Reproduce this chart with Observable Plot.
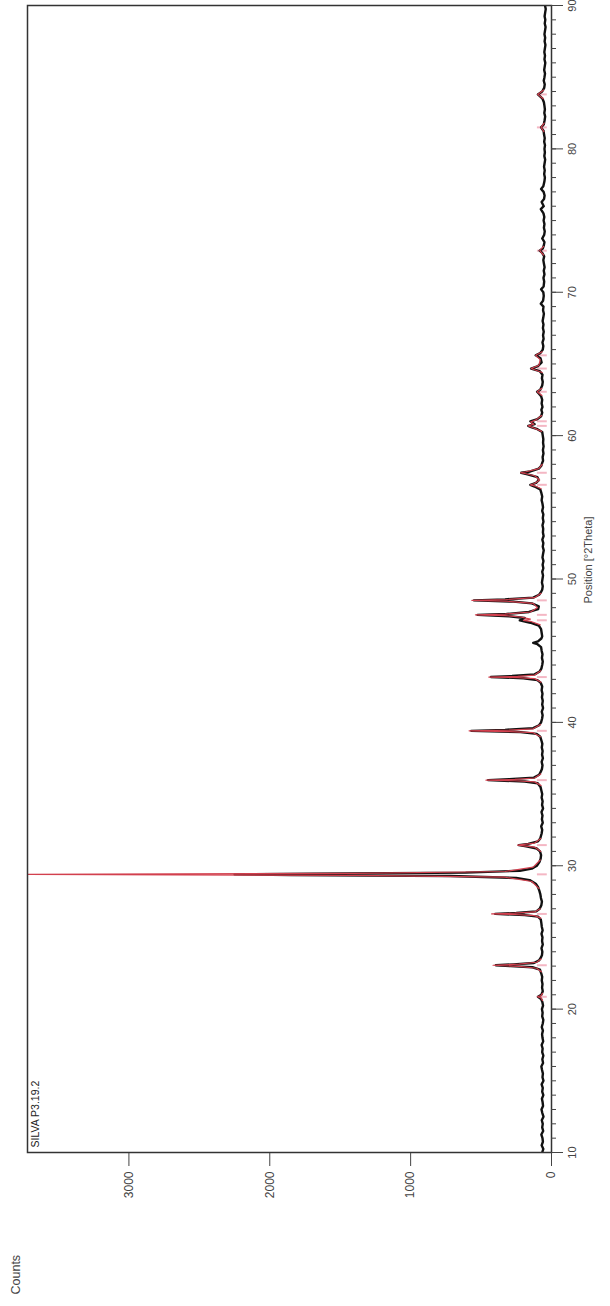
<!DOCTYPE html>
<html><head><meta charset="utf-8">
<script src="https://cdn.jsdelivr.net/npm/d3@7"></script>
<script src="https://cdn.jsdelivr.net/npm/@observablehq/plot@0.6"></script>
<style>
html,body{margin:0;padding:0;background:#fff;overflow:hidden;width:610px;height:1306px;}
#wrap{position:absolute;left:0;top:0;width:1306px;height:610px;transform-origin:0 0;transform:translate(0,1306px) rotate(-90deg);}
#wrap svg{position:absolute;left:0;top:0;}
</style></head><body><div id="wrap"></div>
<script>
// Observed pattern (black), [°2Theta, counts]
const obs10to30 = [[10,66],[10.25,58],[10.5,70],[10.75,61],[11,64],[11.25,72],[11.5,59],[11.75,66],[12,62],[12.25,69],[12.5,57],[12.75,65],[13,71],[13.25,60],[13.5,63],[13.75,68],[14,58],[14.25,66],[14.5,62],[14.75,70],[15,57],[15.25,64],[15.5,61],[15.75,67],[16,72],[16.25,60],[16.5,65],[16.75,58],[17,66],[17.25,63],[17.5,70],[17.75,59],[18,64],[18.25,67],[18.5,61],[18.75,69],[19,62],[19.25,58],[19.5,66],[19.75,63],[20,68],[20.25,60],[20.5,65],[20.7,74],[20.86,96],[21,72],[21.25,62],[21.5,67],[21.75,64],[22,69],[22.25,66],[22.5,73],[22.75,82],[22.92,135],[23.0,290],[23.06,395],[23.12,270],[23.22,125],[23.4,88],[23.6,75],[23.75,68],[24,65],[24.25,71],[24.5,62],[24.75,67],[25,64],[25.25,71],[25.5,63],[25.75,69],[26,72],[26.25,76],[26.45,96],[26.56,190],[26.64,400],[26.7,250],[26.82,108],[27,84],[27.25,72],[27.5,68],[27.75,75],[28,79],[28.25,86],[28.5,95],[28.75,112],[29,155],[29.15,250],[29.28,720],[29.36,1850],[29.4,2250],[29.44,1700],[29.52,610],[29.65,225],[29.8,140],[30,104]];
const obs30to50 = [[30.25,86],[30.5,77],[30.75,74],[31,82],[31.2,104],[31.36,180],[31.44,232],[31.52,165],[31.7,96],[31.9,80],[32.25,70],[32.5,66],[32.75,73],[33,62],[33.25,68],[33.5,64],[33.75,71],[34,60],[34.25,67],[34.5,63],[34.75,70],[35,66],[35.25,72],[35.5,78],[35.75,98],[35.88,190],[35.97,450],[36.04,300],[36.15,125],[36.35,88],[36.6,74],[36.75,68],[37,64],[37.25,70],[37.5,61],[37.75,67],[38,63],[38.25,69],[38.5,65],[38.75,72],[39,80],[39.2,105],[39.32,220],[39.41,570],[39.48,330],[39.6,130],[39.8,88],[40,74],[40.25,67],[40.5,63],[40.75,69],[41,60],[41.25,66],[41.5,62],[41.75,68],[42,64],[42.25,70],[42.5,66],[42.75,76],[42.95,100],[43.08,200],[43.16,430],[43.23,280],[43.35,120],[43.55,84],[43.75,72],[44,66],[44.25,62],[44.5,68],[44.75,64],[45,70],[45.25,74],[45.45,100],[45.55,130],[45.65,96],[45.85,72],[46,66],[46.25,70],[46.5,74],[46.75,90],[46.95,150],[47.12,225],[47.28,190],[47.4,300],[47.5,525],[47.56,320],[47.7,160],[47.9,95],[48.1,90],[48.3,140],[48.42,270],[48.51,550],[48.58,330],[48.7,130],[48.9,88],[49.1,74],[49.25,66],[49.5,62],[49.75,68],[50,64]];
const obs50to70 = [[50.25,60],[50.5,66],[50.75,58],[51,63],[51.25,57],[51.5,64],[51.75,60],[52,55],[52.25,62],[52.5,58],[52.75,65],[53,56],[53.25,61],[53.5,59],[53.75,64],[54,57],[54.25,62],[54.5,58],[54.75,66],[55,60],[55.25,64],[55.5,70],[55.75,66],[56,72],[56.25,80],[56.45,120],[56.57,150],[56.7,110],[56.9,90],[57.1,100],[57.3,170],[57.41,215],[57.5,150],[57.7,90],[57.9,72],[58.1,66],[58.25,60],[58.5,63],[58.75,57],[59,61],[59.25,56],[59.5,60],[59.75,58],[60,62],[60.25,66],[60.45,100],[60.6,145],[60.68,165],[60.8,120],[61,150],[61.15,100],[61.35,74],[61.6,66],[61.8,72],[62,64],[62.25,70],[62.5,66],[62.75,74],[62.95,92],[63.06,102],[63.2,80],[63.5,66],[63.75,62],[64,68],[64.25,64],[64.5,84],[64.68,145],[64.85,96],[65.1,70],[65.4,78],[65.6,112],[65.75,80],[66,62],[66.25,58],[66.5,64],[66.75,56],[67,60],[67.25,55],[67.5,61],[67.75,57],[68,63],[68.25,58],[68.5,54],[68.75,60],[69,57],[69.2,76],[69.4,60],[69.75,55],[70,58]];
const obs70to90 = [[70.2,74],[70.4,56],[70.75,52],[71,57],[71.25,50],[71.5,55],[71.75,49],[72,54],[72.25,58],[72.5,52],[72.75,66],[72.9,84],[73.05,62],[73.25,55],[73.5,50],[73.75,66],[74,52],[74.25,48],[74.5,54],[74.75,50],[75,56],[75.25,51],[75.5,57],[75.8,76],[76,55],[76.3,70],[76.5,53],[76.75,49],[77,56],[77.2,74],[77.4,58],[77.75,50],[78,47],[78.25,52],[78.5,48],[78.75,53],[79,49],[79.25,45],[79.5,51],[79.75,47],[80,50],[80.25,46],[80.5,52],[80.75,48],[81,53],[81.25,56],[81.5,74],[81.7,55],[82,49],[82.25,45],[82.5,51],[82.75,47],[83,50],[83.25,54],[83.5,64],[83.8,96],[84,66],[84.25,52],[84.5,48],[84.75,55],[85,50],[85.25,46],[85.5,52],[85.75,48],[86,44],[86.25,50],[86.5,46],[86.75,51],[87,47],[87.25,43],[87.5,49],[87.75,45],[88,50],[88.25,46],[88.5,42],[88.75,48],[89,44],[89.25,49],[89.5,45],[89.75,41],[90,46]];

// Calculated profile (red) around peaks; null = gap
const calc10to30 = [[20.6,64],[20.78,74],[20.86,100],[20.94,74],[21.1,64],null,
  [22.6,72],[22.85,105],[22.98,230],[23.06,415],[23.14,230],[23.27,105],[23.5,74],null,
  [26.35,76],[26.52,120],[26.6,260],[26.64,425],[26.69,260],[26.78,120],[27.0,80],null,
  [28.4,88],[28.9,140],[29.2,330],[29.33,1400],[29.4,3900],[29.47,1400],[29.6,330],[29.9,130],[30.4,80],null,
  [31.0,76],[31.3,120],[31.44,240],[31.58,120],[31.9,76]];
const calc30to50 = [[35.6,74],[35.85,120],[35.93,260],[35.97,465],[36.02,260],[36.12,120],[36.4,76],null,
  [39.0,78],[39.28,130],[39.36,300],[39.41,585],[39.46,300],[39.55,130],[39.85,78],null,
  [42.8,74],[43.05,120],[43.12,240],[43.16,445],[43.21,240],[43.3,120],[43.6,76],null,
  [46.8,80],[47.05,150],[47.12,200],[47.2,150],[47.35,220],[47.45,330],[47.5,540],[47.55,330],[47.7,150],[48.0,100],[48.3,130],[48.45,320],[48.51,565],[48.57,320],[48.7,120],[49.0,74]];
const calc50to90 = [[56.3,74],[56.5,120],[56.57,150],[56.66,120],[56.9,84],[57.2,120],[57.36,190],[57.41,220],[57.48,180],[57.7,90],[58,66],null,
  [60.3,70],[60.55,130],[60.68,165],[60.8,125],[60.95,148],[61.1,110],[61.4,70],null,
  [62.8,68],[63.06,102],[63.3,68],null,
  [64.4,66],[64.68,145],[64.9,90],[65.3,80],[65.6,112],[65.85,66],null,
  [72.6,56],[72.9,84],[73.2,56],null,
  [81.2,54],[81.5,74],[81.8,52],null,
  [83.5,58],[83.8,98],[84.1,56]];

// Peak marker positions (pink)
const peakPos = [20.86,23.06,26.64,29.40,31.44,35.97,39.41,43.16,47.12,47.50,48.51,56.57,57.41,60.68,61.0,63.06,64.68,65.6,72.9,81.5,83.8];

const xTicks = [10,20,30,40,50,60,70,80,90];
const xMinorTicks = [10,11,12,13,14,15,16,17,18,19,20,21,22,23,24,25,26,27,28,29,30,31,32,33,34,35,36,37,38,39,40,41,42,43,44,45,46,47,48,49,50,51,52,53,54,55,56,57,58,59,60,61,62,63,64,65,66,67,68,69,70,71,72,73,74,75,76,77,78,79,80,81,82,83,84,85,86,87,88,89,90];
const yTicks = [0,1000,2000,3000];

const toRows = arr => arr.map(p => p ? {t: p[0], c: p[1]} : {t: NaN, c: NaN});
const obs = toRows([...obs10to30, ...obs30to50, ...obs50to70, ...obs70to90]);
const calc = toRows([...calc10to30, null, ...calc30to50, null, ...calc50to90]);

const font = "Liberation Sans, Arial, sans-serif";
const chart = Plot.plot({
  width: 1306, height: 610,
  marginLeft: 153, marginRight: 6, marginTop: 27, marginBottom: 59,
  style: {fontFamily: font, fontSize: "11px", color: "#444", background: "white"},
  x: {domain: [10, 90]},
  y: {domain: [0, 3720]},
  marks: [
    Plot.ruleX(peakPos, {x: d => d, y1: 30, y2: 100, stroke: "#f4b7c4", strokeWidth: 2}),
    Plot.line(obs, {x: "t", y: "c", stroke: "#111", strokeWidth: 2.4, clip: true}),
    Plot.line(calc, {x: "t", y: "c", stroke: "#d2404e", strokeWidth: 1.2, clip: true}),
    Plot.frame({stroke: "#333", strokeWidth: 1.5}),
    Plot.axisX({ticks: xMinorTicks, tickSize: 5, tickFormat: () => "", label: null, stroke: "#444"}),
    Plot.axisX({ticks: xTicks, tickSize: 12, tickPadding: 5, label: null, stroke: "#444", tickFormat: d => String(d)}),
    Plot.axisY({ticks: yTicks, tickSize: 13, tickPadding: 6, label: null, stroke: "#444", fontSize: 12, tickFormat: d => String(d)}),
    Plot.text(["SILVA P3.19.2"], {frameAnchor: "top-left", textAnchor: "start", lineAnchor: "top", dx: 5, dy: 4, fontSize: 10.5, fill: "#222"}),
    Plot.text(["Position [°2Theta]"], {frameAnchor: "bottom", lineAnchor: "top", dx: 19, dy: 33, fontSize: 11, fill: "#444"}),
    Plot.text(["Counts"], {frameAnchor: "top-left", textAnchor: "start", lineAnchor: "top", dx: -142, dy: -16, fontSize: 12.5, fill: "#444"})
  ]
});
document.getElementById("wrap").appendChild(chart);
</script></body></html>
